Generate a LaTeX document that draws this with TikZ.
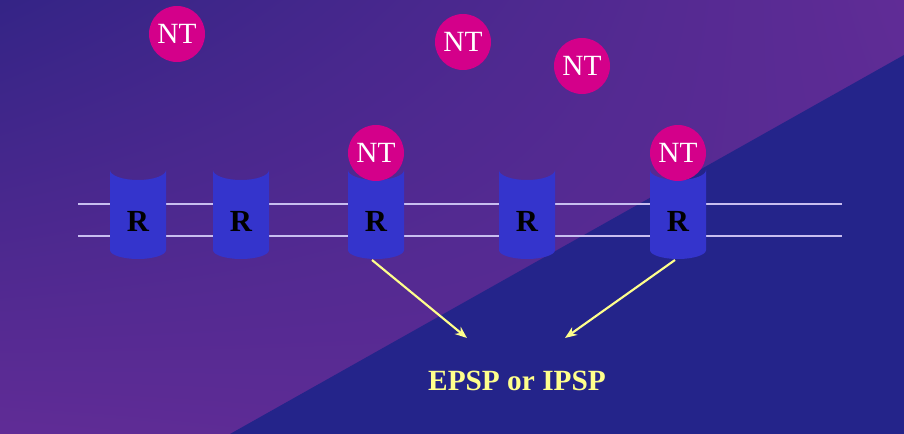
\documentclass[tikz,border=0pt]{standalone}
\usepackage{fontspec}
\setmainfont{Liberation Serif}
\usetikzlibrary{arrows.meta, positioning, calc, shadings}
\definecolor{BgDark}{RGB}{52, 36, 134}
\definecolor{BgPurple}{RGB}{96, 44, 150}
\definecolor{BgBlue}{RGB}{36, 36, 138}
\definecolor{RecBlue}{RGB}{52, 52, 204}
\definecolor{NTPink}{RGB}{212, 0, 138}
\definecolor{MemLine}{RGB}{200, 190, 240}
\definecolor{SignalYellow}{RGB}{255, 255, 140}

\begin{document}
\begin{tikzpicture}[
        x=0.75pt, y=-0.75pt,
        nt/.style={circle, fill=NTPink, minimum size=42pt, inner sep=0pt, text=white, font=\fontsize{22}{22}\selectfont},
        rlabel/.style={font=\fontsize{23}{23}\selectfont\bfseries, text=black},
        arrow/.style={-{Stealth[length=9pt, width=7pt]}, line width=1.6pt, SignalYellow},
        membrane/.style={line width=2.2pt, MemLine}
    ]
        % Background
        \shade[upper left=BgDark, upper right=BgPurple, lower left=BgPurple, lower right=BgPurple!80!BgDark] (0,0) rectangle (904,434);
        \fill[BgBlue] (230,434) -- (904,55) -- (904,434) -- cycle;
        \useasboundingbox (0,0) rectangle (904,434);

        % Membrane
        \coordinate (mL1) at (78,204);
        \coordinate (mR1) at (842,204);
        \coordinate (mL2) at (78,236);
        \coordinate (mR2) at (842,236);
        \draw[membrane] (mL1) -- (mR1);
        \draw[membrane] (mL2) -- (mR2);

        % Receptors
        \foreach \x [count=\i] in {138, 241, 376, 527, 678} {
            \fill[RecBlue] (\x-28,170) -- (\x-28,250) arc (180:0:28 and 9)
                -- (\x+28,170) arc (0:180:28 and 10) -- cycle;
            \node[rlabel] (r\i) at (\x,221) {R};
        }

        % Neurotransmitters
        \node[nt] (nt1) at (177,34) {NT};
        \node[nt] (nt2) at (463,42) {NT};
        \node[nt] (nt3) at (582,66) {NT};
        \node[nt] (nt4) at (376,153) {NT};
        \node[nt] (nt5) at (678,153) {NT};

        % Output
        \node[font=\fontsize{22}{22}\selectfont\bfseries, text=SignalYellow] (psp) at (517,381) {EPSP or IPSP};
        \coordinate (a1) at (467,338);
        \coordinate (a2) at (565,338);
        \draw[arrow] ($(r3)+(-4,39)$) -- (a1);
        \draw[arrow] ($(r5)+(-3,39)$) -- (a2);
    \end{tikzpicture}
\end{document}
